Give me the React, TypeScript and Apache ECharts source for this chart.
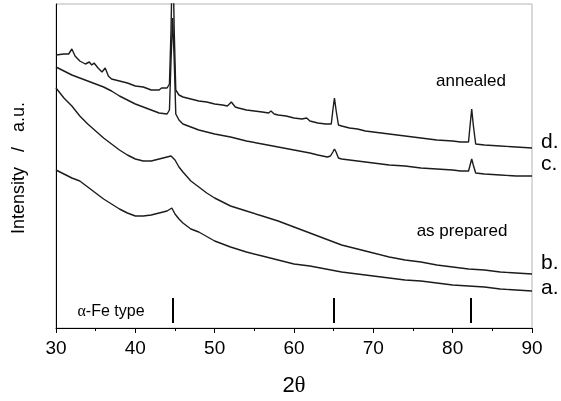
import React, { useEffect, useRef } from "react";
import * as echarts from "echarts";

// Curve d (annealed, upper)
const twoThetaD = [30, 31, 31.6, 32, 32.4, 33, 33.7, 34.2, 34.5, 34.8, 35.3, 35.8, 36.2, 36.6, 37, 38, 39, 40, 41, 42, 43, 43.3, 44, 44.3, 44.5, 44.7, 44.9, 45.1, 45.5, 46, 47, 48, 49, 50, 51, 51.6, 52.1, 52.6, 53, 54, 55, 56, 56.8, 57.1, 57.5, 58, 59, 60, 61, 61.6, 62, 63, 64, 64.7, 64.9, 65.1, 65.3, 65.6, 66, 67, 68, 69, 70, 72, 74, 76, 78, 80, 81, 82, 82.2, 82.4, 82.6, 82.9, 84, 86, 88, 90];
const intensityD = [273, 274, 274, 279, 272, 267, 264, 266, 263, 265, 260, 256, 260, 252, 249, 247, 245, 242, 241, 238, 238, 240, 240, 244, 298, 388, 298, 238, 233, 231, 229, 227, 226, 224, 223, 222, 226, 221, 220, 218, 217, 216, 215, 217, 214, 213, 212, 210, 209, 210, 207, 205, 204, 204, 218, 230, 218, 203, 202, 200, 199, 197, 196, 194, 192, 190, 188, 187, 186, 186, 203, 219, 203, 184, 183, 182, 181, 180];

// Curve c (annealed, lower)
const twoThetaC = [30, 31, 32, 33, 34, 35, 36, 37, 38, 39, 40, 41, 42, 43, 44, 44.3, 44.5, 44.7, 44.9, 45.1, 45.5, 46, 47, 48, 50, 52, 54, 56, 58, 60, 62, 63, 64.2, 64.6, 64.9, 65.1, 65.3, 65.6, 66, 67, 68, 69, 70, 72, 74, 76, 78, 80, 81, 82, 82.2, 82.4, 82.6, 82.9, 84, 86, 88, 90];
const intensityC = [261, 257, 253, 250, 247, 244, 241, 237, 232, 228, 224, 221, 218, 215, 214, 218, 268, 310, 268, 214, 208, 204, 201, 198, 194, 191, 187, 184, 181, 178, 175, 173, 171, 172, 176, 179, 176, 170, 169, 168, 167, 166, 165, 163, 162, 160, 159, 158, 157, 157, 163, 169, 163, 155, 154, 153, 152, 152];

// Curve b (as prepared, upper)
const twoThetaB = [30, 30.5, 31, 32, 33, 34, 35, 36, 37, 38, 39, 40, 41, 42, 43, 44, 44.5, 45, 45.5, 46, 47, 48, 49, 50, 52, 54, 56, 58, 60, 62, 64, 66, 68, 70, 72, 74, 76, 78, 80, 82, 84, 86, 88, 90];
const intensityB = [240, 235, 230, 222, 212, 204, 197, 190, 184, 178, 173, 169, 167, 167, 169, 171, 172, 168, 161, 156, 147, 141, 135, 130, 122, 117, 112, 107, 101, 95, 89, 83, 79, 75, 71, 68, 66, 63, 61, 59, 58, 56, 55, 54];

// Curve a (as prepared, lower)
const twoThetaA = [30, 31, 32, 33, 34, 35, 36, 37, 38, 39, 40, 41, 42, 43, 44, 44.6, 45, 45.5, 46, 47, 48, 50, 52, 54, 56, 58, 60, 62, 64, 66, 68, 70, 72, 74, 76, 78, 80, 82, 84, 86, 88, 90];
const intensityA = [158, 154, 150, 147, 141, 135, 129, 124, 119, 115, 112, 112, 113, 115, 117, 120, 114, 109, 105, 99, 96, 87, 81, 76, 72, 68, 64, 62, 59, 56, 54, 52, 50, 48, 47, 45, 43, 42, 41, 39, 38, 37];

// alpha-Fe reference reflections
const feRefPositions = [44.7, 65.0, 82.3];
const feRefTop = 30;
const feRefBottom = 5;

const xTicks = { min: 30, max: 90, interval: 10 };

const zip = (xs: number[], ys: number[]) => xs.map((x, i) => [x, ys[i]]);

const FONT = "'Liberation Sans', Arial, Helvetica, sans-serif";
const SERIF = "'Liberation Serif', 'DejaVu Serif', serif";

export default function App() {
  const ref = useRef<HTMLDivElement>(null);
  useEffect(() => {
    if (!ref.current) return;
    const chart = echarts.init(ref.current, undefined, { renderer: "svg" });
    const lineSeries = (name: string, xs: number[], ys: number[]) => ({
      name,
      type: "line",
      data: zip(xs, ys),
      showSymbol: false,
      symbol: "none",
      clip: true,
      silent: true,
      lineStyle: { color: "#1c1c1c", width: 1.4 },
    });
    const sideLabel = (text: string, y: number) => ({
      type: "text",
      x: 541,
      y,
      style: { text, fontSize: 21, fontFamily: FONT, fill: "#000", align: "left", verticalAlign: "middle" },
    });
    chart.setOption({
      animation: false,
      grid: { left: 56, right: 29, top: 4, bottom: 73, show: true, borderColor: "#b4b4b4", borderWidth: 1, backgroundColor: "transparent" },
      xAxis: {
        type: "value",
        min: xTicks.min,
        max: xTicks.max,
        interval: xTicks.interval,
        axisLine: { lineStyle: { color: "#000", width: 1 } },
        axisTick: { length: 5, lineStyle: { color: "#000" } },
        minorTick: { show: true, splitNumber: 2, length: 3, lineStyle: { color: "#000" } },
        splitLine: { show: false },
        axisLabel: { fontSize: 19, color: "#000", fontFamily: FONT, margin: 10 },
        name: "2{t|θ}",
        nameLocation: "middle",
        nameGap: 45,
        nameTextStyle: {
          fontSize: 22,
          color: "#000",
          fontFamily: FONT,
          rich: { t: { fontSize: 23, fontFamily: SERIF, color: "#000" } },
        },
      },
      yAxis: {
        type: "value",
        min: 0,
        max: 324,
        axisLine: { show: true, lineStyle: { color: "#000", width: 1 } },
        axisTick: { show: false },
        axisLabel: { show: false },
        splitLine: { show: false },
      },
      series: [
        lineSeries("d", twoThetaD, intensityD),
        lineSeries("c", twoThetaC, intensityC),
        lineSeries("b", twoThetaB, intensityB),
        lineSeries("a", twoThetaA, intensityA),
        {
          name: "alpha-Fe",
          type: "line",
          data: [],
          silent: true,
          markLine: {
            silent: true,
            symbol: ["none", "none"],
            label: { show: false },
            lineStyle: { color: "#000", width: 2, type: "solid" },
            data: feRefPositions.map((p) => [{ coord: [p, feRefTop] }, { coord: [p, feRefBottom] }]),
          },
        },
      ],
      graphic: [
        { type: "text", x: 18, y: 168, rotation: Math.PI / 2, style: { text: "Intensity   /   a.u.", fontSize: 18, fontFamily: FONT, fill: "#000", align: "center", verticalAlign: "middle" } },
        sideLabel("d.", 140),
        sideLabel("c.", 162),
        sideLabel("b.", 261),
        sideLabel("a.", 286),
        { type: "text", x: 471, y: 80, style: { text: "annealed", fontSize: 17, fontFamily: FONT, fill: "#000", align: "center", verticalAlign: "middle" } },
        { type: "text", x: 462, y: 230, style: { text: "as prepared", fontSize: 17, fontFamily: FONT, fill: "#000", align: "center", verticalAlign: "middle" } },
        {
          type: "text",
          x: 111,
          y: 310,
          style: {
            text: "{g|α}-Fe type",
            fontSize: 16,
            fontFamily: FONT,
            fill: "#000",
            align: "center",
            verticalAlign: "middle",
            rich: { g: { fontSize: 16, fontFamily: SERIF, fill: "#000" } },
          },
        },
      ],
    });
    return () => chart.dispose();
  }, []);
  return <div ref={ref} style={{ position: "fixed", left: 0, top: 0, width: 561, height: 401 }} />;
}
